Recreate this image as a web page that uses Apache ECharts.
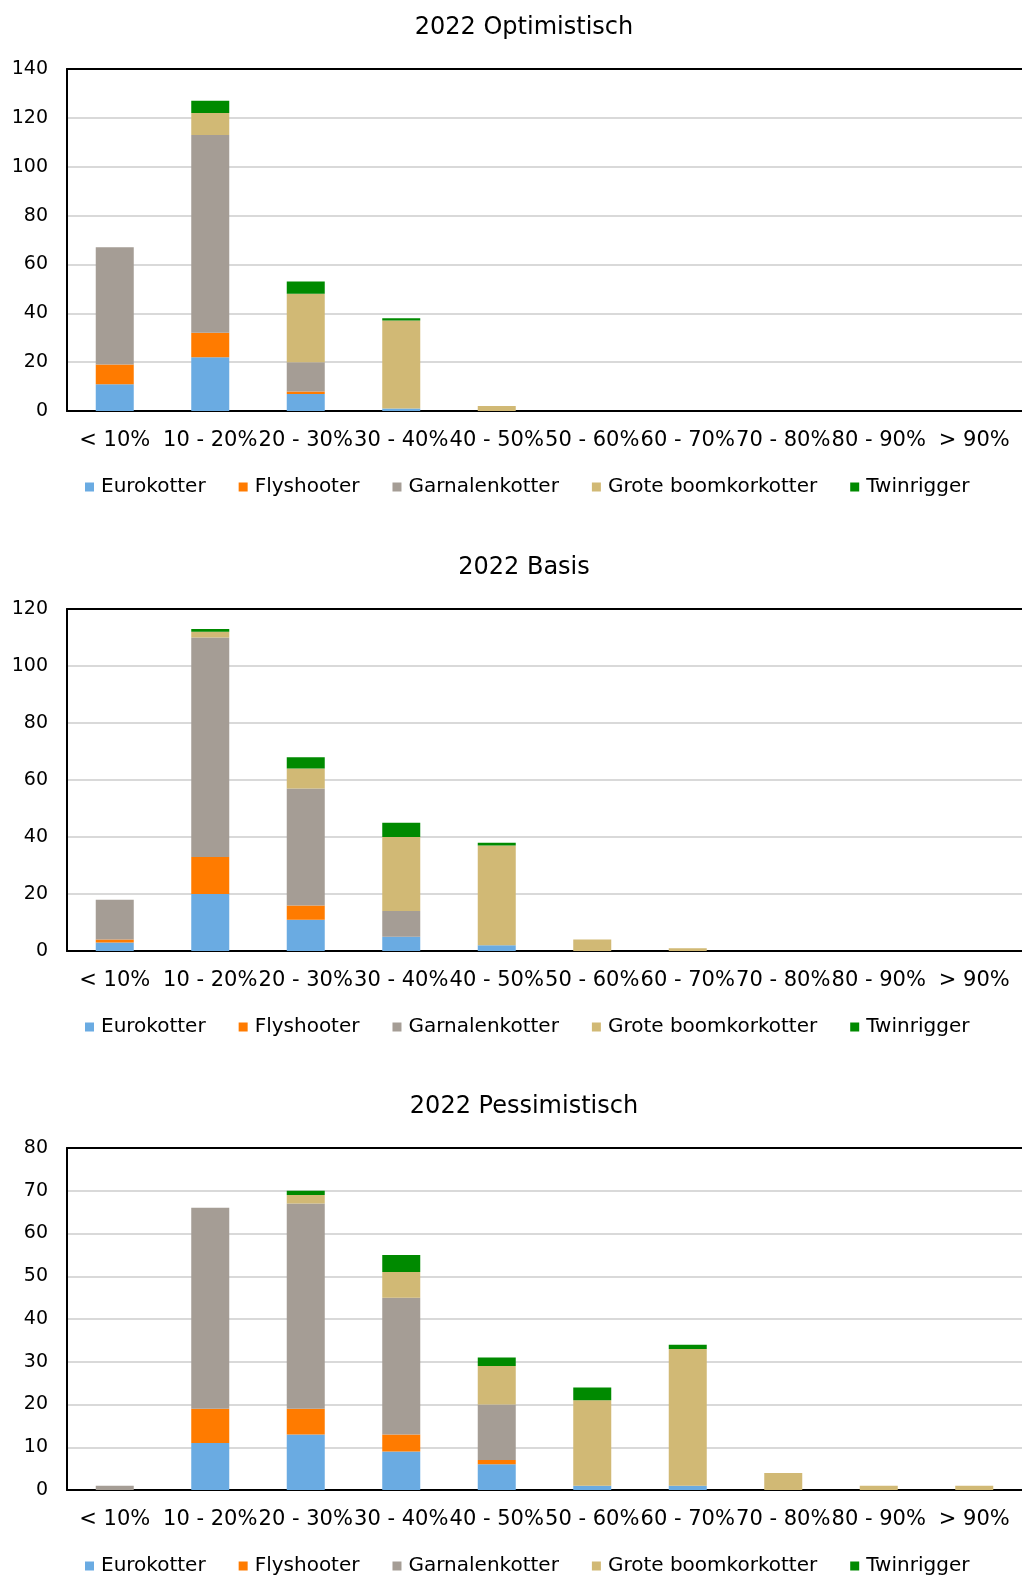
<!DOCTYPE html>
<html>
<head>
<meta charset="utf-8">
<script src="https://cdn.jsdelivr.net/npm/echarts@6/dist/echarts.min.js"></script>
<style>
  html, body { margin: 0; padding: 0; background: #fff; }
  #chart { width: 1022px; height: 1575px; }
</style>
</head>
<body>
<div id="chart"></div>
<script>
const categories = ['< 10%', '10 - 20%', '20 - 30%', '30 - 40%', '40 - 50%', '50 - 60%', '60 - 70%', '70 - 80%', '80 - 90%', '> 90%'];
const typeNames = ['Eurokotter', 'Flyshooter', 'Garnalenkotter', 'Grote boomkorkotter', 'Twinrigger'];
const typeColors = ['#6aabe2', '#ff7b00', '#a59d95', '#d1b975', '#008a00'];

// 2022 Optimistisch
const optEuro = [11, 22, 7, 1, 0, 0, 0, 0, 0, 0];
const optFly = [8, 10, 1, 0, 0, 0, 0, 0, 0, 0];
const optGarn = [48, 81, 12, 0, 0, 0, 0, 0, 0, 0];
const optGrote = [0, 9, 28, 36, 2, 0, 0, 0, 0, 0];
const optTwin = [0, 5, 5, 1, 0, 0, 0, 0, 0, 0];

// 2022 Basis
const basEuro = [3, 20, 11, 5, 2, 0, 0, 0, 0, 0];
const basFly = [1, 13, 5, 0, 0, 0, 0, 0, 0, 0];
const basGarn = [14, 77, 41, 9, 0, 0, 0, 0, 0, 0];
const basGrote = [0, 2, 7, 26, 35, 4, 1, 0, 0, 0];
const basTwin = [0, 1, 4, 5, 1, 0, 0, 0, 0, 0];

// 2022 Pessimistisch
const pesEuro = [0, 11, 13, 9, 6, 1, 1, 0, 0, 0];
const pesFly = [0, 8, 6, 4, 1, 0, 0, 0, 0, 0];
const pesGarn = [1, 47, 48, 32, 13, 0, 0, 0, 0, 0];
const pesGrote = [0, 0, 2, 6, 9, 20, 32, 4, 1, 1];
const pesTwin = [0, 0, 1, 4, 2, 3, 1, 0, 0, 0];

const panels = [
  { title: '2022 Optimistisch', max: 140, interval: 20, data: [optEuro, optFly, optGarn, optGrote, optTwin] },
  { title: '2022 Basis', max: 120, interval: 20, data: [basEuro, basFly, basGarn, basGrote, basTwin] },
  { title: '2022 Pessimistisch', max: 80, interval: 10, data: [pesEuro, pesFly, pesGarn, pesGrote, pesTwin] }
];

const font = 'DejaVu Sans, Verdana, sans-serif';
const step = 539.5;
const titles = [], grids = [], xAxes = [], yAxes = [], legends = [], series = [];

panels.forEach((p, i) => {
  const off = Math.round(i * step);
  titles.push({
    text: p.title, left: 519, top: 11 + off,
    textAlign: 'center',
    textStyle: { fontFamily: font, fontSize: 24, fontWeight: 'normal', color: '#000' }
  });
  grids.push({
    left: 67, top: 69 + off, width: 960, height: 342
  });
  xAxes.push({
    type: 'category', gridIndex: i, data: categories,
    axisLine: { lineStyle: { color: '#000', width: 2 } },
    axisTick: { show: false },
    axisLabel: { fontFamily: font, fontSize: 21, color: '#000', margin: 19, interval: 0 }
  });
  // top edge of the plot box
  xAxes.push({
    type: 'category', gridIndex: i, data: categories, position: 'top',
    axisLine: { show: true, lineStyle: { color: '#000', width: 2 } },
    axisTick: { show: false }, axisLabel: { show: false }, splitLine: { show: false }
  });
  yAxes.push({
    type: 'value', gridIndex: i, min: 0, max: p.max, interval: p.interval,
    axisLine: { show: true, lineStyle: { color: '#000', width: 2 } },
    axisTick: { show: false },
    axisLabel: { fontFamily: font, fontSize: 19, color: '#000', margin: 19 },
    splitLine: { lineStyle: { color: '#d9d9d9', width: 2 } }
  });
  legends.push({
    data: typeNames, left: 85, top: 477 + off, padding: 0,
    icon: 'rect', itemWidth: 9, itemHeight: 9, itemGap: 33,
    textStyle: { fontFamily: font, fontSize: 20, color: '#000', padding: [0, 0, 0, 2] }
  });
  p.data.forEach((vals, k) => {
    series.push({
      name: typeNames[k], type: 'bar', stack: 'p' + i,
      xAxisIndex: i * 2, yAxisIndex: i,
      barWidth: 38, data: vals,
      itemStyle: { color: typeColors[k] }
    });
  });
});

const chart = echarts.init(document.getElementById('chart'));
chart.setOption({
  animation: false,
  color: typeColors,
  title: titles,
  grid: grids,
  xAxis: xAxes,
  yAxis: yAxes,
  legend: legends,
  series: series
});
</script>
</body>
</html>
